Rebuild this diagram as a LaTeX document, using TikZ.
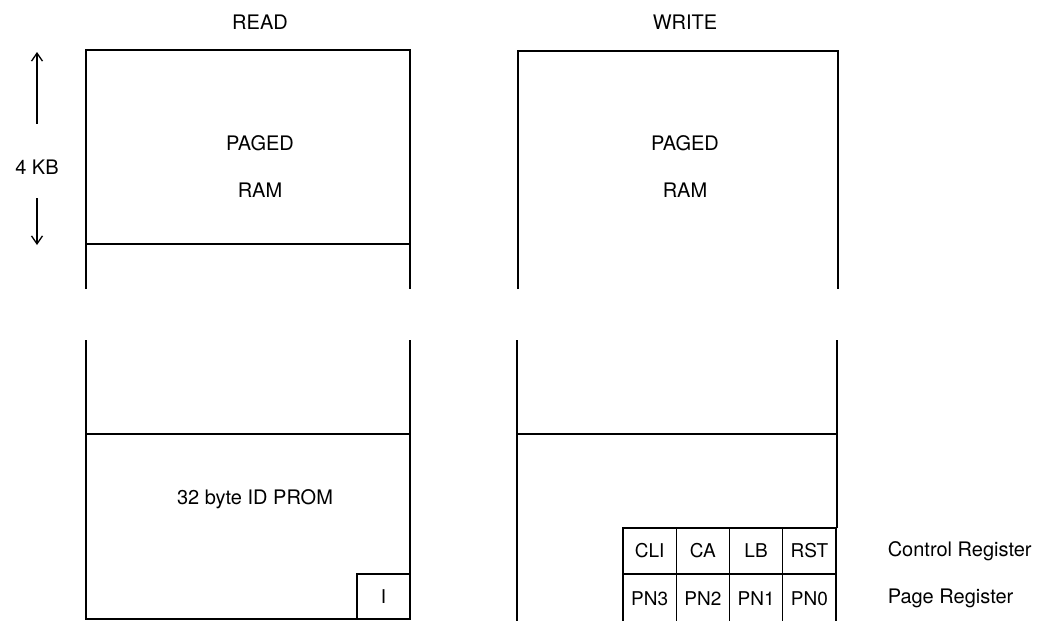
\documentclass[tikz,border=0pt]{standalone}
\usepackage{fontspec}
\setmainfont{TeX Gyre Heros}
\usetikzlibrary{arrows.meta}

\begin{document}
\begin{tikzpicture}[x=1pt,y=-1pt,line width=1.5pt,
  lbl/.style={inner sep=0pt,font=\fontsize{20}{24}\selectfont},
  regcell/.style={draw,line width=1.3pt,minimum width=53.25pt,inner sep=0pt,font=\fontsize{19}{22}\selectfont},
  kbarrow/.style={line width=1.3pt,-{Straight Barb[length=8pt,width=11pt,line width=1.3pt]}}]
\path[use as bounding box] (0,0) rectangle (1047,621);
% headings
\node[lbl] (readhead) at (260,22) {READ};
\node[lbl] (writehead) at (685,22) {WRITE};
% size of one page
\node[lbl] (kb) at (37,167) {4 KB};
\coordinate (kbtop) at (37,52);
\coordinate (kbbot) at (37,245);
\draw[kbarrow,shorten <=35pt] (kb) -- (kbtop);
\draw[kbarrow,shorten <=23pt] (kb) -- (kbbot);
% read side, upper part
\draw (86,289) -- (86,50) -- (410,50) -- (410,289);
\draw (86,244) -- (410,244);
\node[lbl] (rdpaged) at (260,143) {PAGED};
\node[lbl] (rdram) at (260,190) {RAM};
% read side, lower part
\draw (86,340) -- (86,619) -- (410,619) -- (410,340);
\draw (86,434) -- (410,434);
\node[lbl] (prom) at (255,499) {32 byte ID PROM};
\node[draw,line width=1.3pt,minimum width=53pt,minimum height=45pt,inner sep=0pt,font=\fontsize{19}{22}\selectfont] (idbit) at (383.5,596.5) {I};
% write side, upper part
\draw (518,289) -- (518,51) -- (838,51) -- (838,289);
\node[lbl] (wrpaged) at (685,143) {PAGED};
\node[lbl] (wrram) at (685,190) {RAM};
% write side, lower part
\draw (517,623) -- (517,340);
\draw (837,340) -- (837,528);
\draw (517,434) -- (837,434);
% registers
\node[regcell,minimum height=46pt] (cli) at (649.6,551) {CLI};
\node[regcell,minimum height=46pt] (ca) at (702.9,551) {CA};
\node[regcell,minimum height=46pt] (lb) at (756.1,551) {LB};
\node[regcell,minimum height=46pt] (rst) at (809.4,551) {RST};
\node[regcell,minimum height=50pt] (pn3) at (649.6,599) {PN3};
\node[regcell,minimum height=50pt] (pn2) at (702.9,599) {PN2};
\node[regcell,minimum height=50pt] (pn1) at (756.1,599) {PN1};
\node[regcell,minimum height=50pt] (pn0) at (809.4,599) {PN0};
\node[lbl,anchor=west] (ctrlreg) at (887,551) {Control Register};
\node[lbl,anchor=west] (pagereg) at (887,598) {Page Register};
\end{tikzpicture}
\end{document}
